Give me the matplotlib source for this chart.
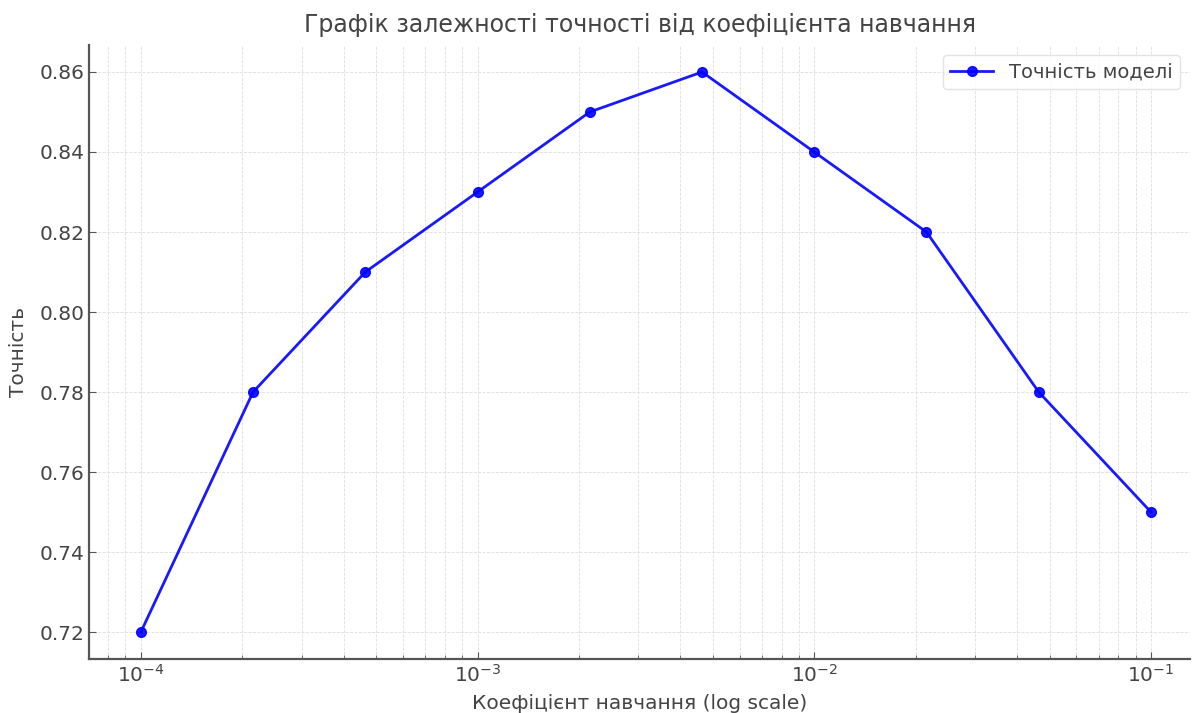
import matplotlib.pyplot as plt

# learning rates tested (log spaced) and the accuracy reached with each
learning_rates = [1e-4, 2.154e-4, 4.642e-4, 1e-3, 2.154e-3, 4.642e-3,
                  1e-2, 2.154e-2, 4.642e-2, 1e-1]
accuracy = [0.72, 0.78, 0.81, 0.83, 0.85, 0.86, 0.84, 0.82, 0.78, 0.75]

text_color = "#444444"
spine_color = "#555555"

plt.rcParams["font.family"] = "DejaVu Sans"

fig = plt.figure(figsize=(11.92, 7.13), dpi=100)
ax = fig.add_axes([0.0747, 0.0757, 0.9236, 0.8612])

ax.plot(learning_rates, accuracy, marker="o", color="blue", linewidth=2,
        markersize=7, alpha=0.9, label="Точність моделі")

ax.set_xscale("log")
ax.set_xlim(10 ** -4.154, 10 ** -0.884)
ax.set_ylim(0.71325, 0.86675)
ax.set_yticks([0.72, 0.74, 0.76, 0.78, 0.80, 0.82, 0.84, 0.86])

ax.grid(True, which="both", linestyle="--", linewidth=0.6, color="#dedede")
ax.set_axisbelow(True)

for side in ["top", "right"]:
    ax.spines[side].set_visible(False)
for side in ["left", "bottom"]:
    ax.spines[side].set_color(spine_color)
    ax.spines[side].set_linewidth(1.6)

ax.tick_params(which="both", direction="in", colors=spine_color,
               labelcolor=text_color, labelsize=14.5)
ax.tick_params(which="major", length=5)
ax.tick_params(which="minor", length=3)

ax.set_title("Графік залежності точності від коефіцієнта навчання",
             fontsize=17, color=text_color, pad=9)
ax.set_xlabel("Коефіцієнт навчання (log scale)", fontsize=14.5,
              color=text_color, labelpad=6)
ax.set_ylabel("Точність", fontsize=14.5, color=text_color, labelpad=8)

leg = ax.legend(loc="upper right", fontsize=14, labelcolor=text_color,
                borderaxespad=0.5, handlelength=2.2)
leg.get_frame().set_edgecolor("#dddddd")

fig.savefig("out.png", dpi=100)
